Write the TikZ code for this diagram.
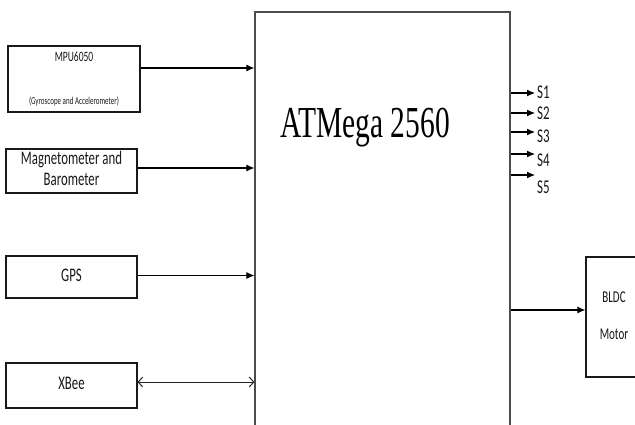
\documentclass[tikz,border=0pt]{standalone}
\usepackage{fontspec}
\usepackage{graphicx}
\usetikzlibrary{arrows.meta}
\newfontfamily\carlito{Carlito}
\newfontfamily\tnr{Liberation Serif}
\newcommand{\vtxt}[1]{\scalebox{1}[1.5]{\begin{tabular}{@{}c@{}}#1\end{tabular}}}
\begin{document}
\begin{tikzpicture}[x=1pt,y=-1pt,
  box/.style={draw=black!90,line width=1.1pt,rectangle,inner sep=0pt,align=center,text=black!90},
  bigbox/.style={draw=black!70,line width=1.2pt,rectangle,inner sep=0pt},
  txt/.style={font=\carlito\fontsize{12.8}{13.8}\selectfont},
  lbl/.style={font=\carlito\fontsize{13}{14}\selectfont,text=black!90,inner sep=0pt},
  arr/.style={line width=1.1pt,draw=black,-{Latex[length=8pt,width=7pt]}},
  darr/.style={line width=1pt,draw=black!85,{Straight Barb[length=4.5pt,width=10pt]}-{Straight Barb[length=4.5pt,width=10pt]}}]
\useasboundingbox (0,0) rectangle (635,425);
\fill[white] (0,0) rectangle (635,425);
% main controller
\node[bigbox,minimum width=255pt,minimum height=428pt] (atm) at (382.5,226) {};
\node[font=\tnr\fontsize{29.5}{32}\selectfont,text=black,inner sep=0pt] (atmlabel) at (365,128) {\scalebox{1}[1.5]{ATMega 2560}};
% input boxes
\node[box,txt,minimum width=132pt,minimum height=66pt] (mpu) at (74,79)
  {\scalebox{1}[1.5]{\begin{tabular}{@{}c@{}}{\fontsize{9.5}{11}\selectfont MPU6050}\\[15pt]{\fontsize{7}{8}\selectfont (Gyroscope and Accelerometer)}\end{tabular}}};
\node[box,txt,minimum width=131pt,minimum height=44pt] (mag) at (71.5,171) {\vtxt{Magnetometer and\\Barometer}};
\node[box,txt,minimum width=131pt,minimum height=42pt] (gps) at (71.5,277) {\vtxt{GPS}};
\node[box,txt,minimum width=131pt,minimum height=45pt] (xbee) at (71.5,385.5) {\vtxt{XBee}};
% output box
\node[box,txt,minimum width=56pt,minimum height=120pt] (bldc) at (614,317)
  {\scalebox{1}[1.5]{\begin{tabular}{@{}c@{}}{\fontsize{11}{11}\selectfont BLDC}\\[11pt]{\fontsize{11}{11}\selectfont Motor}\end{tabular}}};
% input connectors
\coordinate (aMPU) at ([yshift=11pt]mpu.east);
\coordinate (aMAG) at ([yshift=3pt]mag.east);
\coordinate (aGPS) at ([yshift=1.5pt]gps.east);
\coordinate (aXB) at ([yshift=3.5pt]xbee.east);
\draw[arr] (aMPU) -- (aMPU -| atm.west);
\draw[arr] (aMAG) -- (aMAG -| atm.west);
\draw[arr] (aGPS) -- (aGPS -| atm.west);
\draw[darr] (aXB) -- (aXB -| atm.west);
% BLDC connector
\coordinate (aBL) at ([yshift=7pt]bldc.west);
\draw[arr] (aBL -| atm.east) -- (aBL);
% servo outputs
\coordinate (s1) at (535,93);
\coordinate (s2) at (535,113);
\coordinate (s3) at (535,132);
\coordinate (s4) at (535,154);
\coordinate (s5) at (535,175);
\foreach \s in {s1,s2,s3,s4,s5}{\draw[arr] (\s -| atm.east) -- (\s);}
\node[lbl,anchor=west] (S1) at (537,92) {\scalebox{1}[1.5]{S1}};
\node[lbl,anchor=west] (S2) at (537,113) {\scalebox{1}[1.5]{S2}};
\node[lbl,anchor=west] (S3) at (537,136) {\scalebox{1}[1.5]{S3}};
\node[lbl,anchor=west] (S4) at (537,160) {\scalebox{1}[1.5]{S4}};
\node[lbl,anchor=west] (S5) at (537,187) {\scalebox{1}[1.5]{S5}};
\end{tikzpicture}
\end{document}
